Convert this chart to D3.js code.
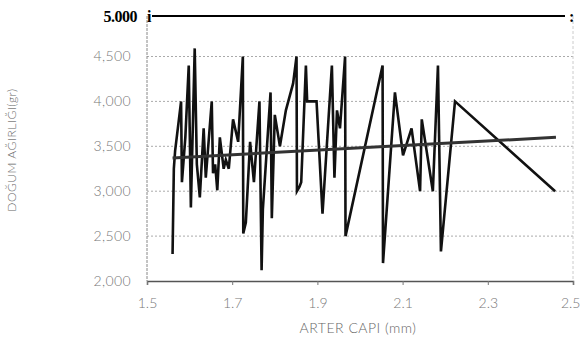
<!DOCTYPE html>
<html>
<head>
<meta charset="utf-8">
<script src="https://cdn.jsdelivr.net/npm/d3@7"></script>
<style>
  body { margin: 0; background: #fff; }
  text { font-family: "Lato", "DejaVu Sans", sans-serif; }
</style>
</head>
<body>
<script>
// artery diameter (mm) vs. birth weight (gr), points in drawing order
const arterCapi = [1.56, 1.563, 1.566, 1.58, 1.582, 1.59, 1.598, 1.603, 1.612, 1.617,
  1.624, 1.633, 1.638, 1.652, 1.655, 1.66, 1.665, 1.671, 1.68, 1.685,
  1.692, 1.702, 1.714, 1.725, 1.726, 1.732, 1.742, 1.751, 1.764, 1.769,
  1.772, 1.79, 1.793, 1.80, 1.812, 1.826, 1.843, 1.851, 1.852, 1.858,
  1.862, 1.873, 1.876, 1.898, 1.912, 1.934, 1.94, 1.946, 1.953, 1.965,
  1.966, 2.053, 2.054, 2.082, 2.101, 2.121, 2.141, 2.145, 2.171, 2.183,
  2.19, 2.223, 2.458];
const dogumAgirligi = [2300, 3250, 3450, 4000, 3100, 3600, 4400, 2820, 4600, 3300,
  2930, 3700, 3150, 4000, 3200, 3300, 3010, 3600, 3250, 3350,
  3250, 3800, 3550, 4500, 2530, 2650, 3550, 3100, 4000, 2120,
  2800, 4100, 2700, 3850, 3500, 3900, 4200, 4500, 3000, 3050,
  3100, 4400, 4000, 4000, 2750, 4400, 3150, 3900, 3700, 4500,
  2500, 4400, 2200, 4100, 3400, 3700, 3000, 3800, 3000, 4400,
  2330, 4000, 3000];
// regression line end points
const trendX = [1.56, 2.46];
const trendY = [3370, 3600];

const xTicks = [1.5, 1.7, 1.9, 2.1, 2.3, 2.5];
const yTicks = [2000, 2500, 3000, 3500, 4000, 4500];
const gridTicks = [2500, 3000, 3500, 4000, 4500];

const width = 581, height = 345;
const svg = d3.select("body").append("svg")
    .attr("width", width)
    .attr("height", height);

const x = d3.scaleLinear().domain([1.5, 2.5]).range([147, 573]);
const y = d3.scaleLinear().domain([2000, 4500, 5000]).range([281, 56.5, 16]);

const fmt = d3.format(",");
const serif = "'Liberation Serif', 'DejaVu Serif', serif";

// grid lines
svg.append("g")
  .selectAll("line")
  .data(gridTicks)
  .join("line")
    .attr("x1", x(1.5)).attr("x2", x(2.5))
    .attr("y1", d => y(d)).attr("y2", d => y(d))
    .attr("stroke", "#aaa")
    .attr("stroke-width", 1)
    .attr("stroke-dasharray", "2,2");

// left / right frame
svg.append("line")
    .attr("x1", x(1.5)).attr("x2", x(1.5))
    .attr("y1", y(5000)).attr("y2", y(2000))
    .attr("stroke", "#888").attr("stroke-dasharray", "3,1");
svg.append("line")
    .attr("x1", x(2.5)).attr("x2", x(2.5))
    .attr("y1", y(5000)).attr("y2", y(2000))
    .attr("stroke", "#ccc").attr("stroke-dasharray", "3,2");

// bottom axis
const xAxis = svg.append("g")
    .attr("transform", `translate(0,${y(2000)})`)
    .call(d3.axisBottom(x).tickValues(xTicks).tickSize(4).tickFormat(d3.format(".1f")));
xAxis.select(".domain").attr("stroke", "#555").attr("stroke-width", 1.5);
xAxis.selectAll(".tick line").attr("stroke", "#777");
xAxis.selectAll(".tick text")
    .attr("y", 17)
    .attr("fill", "#777")
    .attr("font-size", 14)
    .attr("font-weight", 300)
    .style("font-family", "Lato, sans-serif")
    .attr("text-anchor", d => d === 2.5 ? "end" : "middle")
    .attr("dx", d => d === 2.5 ? 7 : 0);

// y tick labels
svg.append("g")
  .selectAll("text")
  .data(yTicks)
  .join("text")
    .attr("x", 131)
    .attr("y", d => y(d))
    .attr("dy", "0.35em")
    .attr("text-anchor", "end")
    .attr("fill", "#777")
    .attr("font-size", 14)
    .attr("font-weight", 300)
    .style("letter-spacing", "0.4px")
    .text(d => fmt(d));

// top line with bold label
svg.append("line")
    .attr("x1", x(1.5) + 5).attr("x2", x(2.5) - 8)
    .attr("y1", y(5000)).attr("y2", y(5000))
    .attr("stroke", "#000").attr("stroke-width", 2);
svg.append("text")
    .attr("x", 137).attr("y", y(5000)).attr("dy", "0.35em")
    .attr("text-anchor", "end")
    .style("font-family", serif)
    .attr("font-weight", "bold")
    .attr("font-size", 16)
    .style("letter-spacing", "-0.5px")
    .text("5.000");
svg.append("text")
    .attr("x", x(1.5)).attr("y", y(5000)).attr("dy", "0.35em")
    .style("font-family", serif)
    .attr("font-weight", "bold")
    .attr("font-size", 16)
    .text("i");
svg.append("text")
    .attr("x", x(2.5) - 4).attr("y", y(5000)).attr("dy", "0.35em")
    .style("font-family", serif)
    .attr("font-weight", "bold")
    .attr("font-size", 16)
    .text(":");

// data line
const pts = arterCapi.map((d, i) => [d, dogumAgirligi[i]]);
svg.append("path")
    .datum(pts)
    .attr("fill", "none")
    .attr("stroke", "#111")
    .attr("stroke-width", 2.6)
    .attr("stroke-linejoin", "miter")
    .attr("d", d3.line().x(d => x(d[0])).y(d => y(d[1])));

// trend line
svg.append("path")
    .datum(trendX.map((d, i) => [d, trendY[i]]))
    .attr("fill", "none")
    .attr("stroke", "#333")
    .attr("stroke-width", 3)
    .attr("d", d3.line().x(d => x(d[0])).y(d => y(d[1])));

// axis titles
svg.append("text")
    .attr("x", 358).attr("y", 333)
    .attr("text-anchor", "middle")
    .attr("fill", "#666")
    .attr("font-size", 14)
    .attr("font-weight", 300)
    .style("letter-spacing", "0.5px")
    .text("ARTER CAPI (mm)");

svg.append("text")
    .attr("transform", "translate(16,150) rotate(-90)")
    .attr("text-anchor", "middle")
    .attr("fill", "#666")
    .attr("font-size", 12)
    .attr("font-weight", 300)
    .style("letter-spacing", "0.5px")
    .text("DOĞUM AĞIRLIĞI(gr)");
</script>
</body>
</html>
